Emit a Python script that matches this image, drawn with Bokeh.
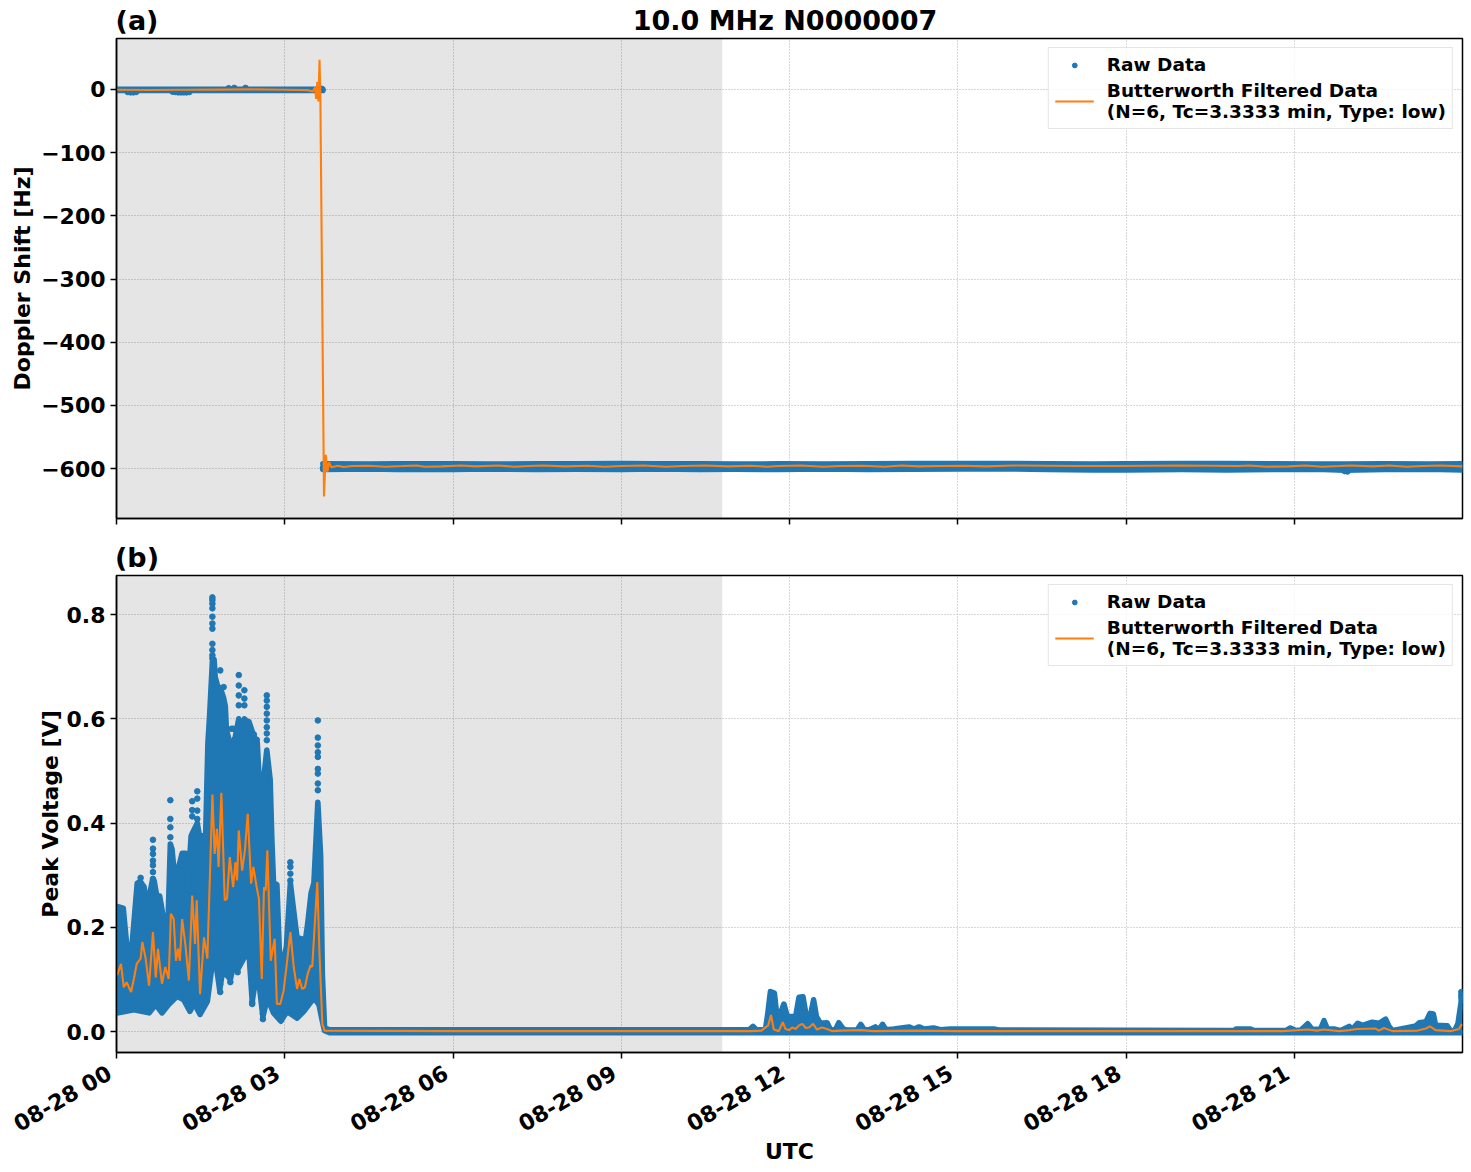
import math
from bokeh.plotting import figure
from bokeh.layouts import column
from bokeh.models import FixedTicker, LinearAxis, Legend, LegendItem
from bokeh.embed import file_html
from bokeh.resources import INLINE

BLUE, ORANGE = "#1f77b4", "#ff7f0e"
FONT = "DejaVu Sans"

x_tick_hours = [0, 3, 6, 9, 12, 15, 18, 21]
x_tick_labels = ["08-28 00", "08-28 03", "08-28 06", "08-28 09", "08-28 12", "08-28 15", "08-28 18", "08-28 21"]
night_span = [0.0, 10.8]
a_ticks = [0, -100, -200, -300, -400, -500, -600]
a_tick_labels = ["0", "\u2212100", "\u2212200", "\u2212300", "\u2212400", "\u2212500", "\u2212600"]
b_ticks = [0.0, 0.2, 0.4, 0.6, 0.8]
b_tick_labels = ["0.0", "0.2", "0.4", "0.6", "0.8"]

# ---- panel (a): Doppler shift ----
a_before_h = [0.0, 0.8, 1.6, 2.4, 3.0, 3.68]
a_before_hi = [0.3, 0.3, 0.3, 0.3, 0.3, 0.3]
a_before_lo = [-1.5, -1.5, -1.5, -1.5, -1.5, -1.5]
a_after_h = [3.68, 4.5, 5.0, 6.0, 6.6, 7.5, 8.2, 9.0, 9.6, 10.4, 11.0, 11.8, 12.6, 13.4,
             14.2, 15.0, 16.0, 16.6, 17.4, 18.0, 19.0, 19.8, 20.6, 21.4, 21.9, 22.6, 23.4, 24.0]
a_after_hi = [-592.5, -593.0, -592.5, -592.5, -593.0, -592.5, -592.5, -592.0, -592.5, -592.5, -593.0,
              -592.5, -593.0, -592.5, -592.0, -592.0, -592.0, -592.5, -593.0, -592.5, -592.0, -592.0,
              -592.5, -593.0, -593.0, -592.5, -593.0, -592.5]
a_after_lo = [-601.5, -600.5, -601.5, -601.5, -600.5, -601.5, -601.0, -601.5, -600.5, -601.5, -601.0,
              -601.5, -600.5, -601.5, -601.0, -600.5, -600.5, -601.5, -602.0, -602.0, -601.5, -602.0,
              -601.5, -601.0, -602.5, -601.5, -601.0, -602.0]
a_filt_h = [0.0, 0.6, 1.2, 1.8, 2.4, 3.0, 3.4, 3.5, 3.54, 3.56, 3.58, 3.6, 3.62, 3.635, 3.70, 3.73, 3.76, 3.79, 3.83,
            3.95, 4.05, 4.2, 4.5, 4.8, 5.1, 5.35, 5.5, 5.8, 6.15, 6.4, 6.8, 7.1, 7.35, 7.6, 8.0, 8.4, 8.7, 9.0,
            9.4, 9.8, 10.1, 10.5, 10.9, 11.3, 11.6, 11.8, 12.2, 12.6, 12.9, 13.3, 13.7, 14.0, 14.3, 14.7, 15.1,
            15.5, 16.0, 16.6, 17.2, 17.8, 18.4, 19.0, 19.5, 20.0, 20.2, 20.5, 20.9, 21.2, 21.5, 21.8, 22.0,
            22.4, 22.7, 23.0, 23.3, 23.6, 24.0]
a_filt_v = [-0.5, -0.8, -0.5, -0.2, 0.2, -0.5, -1.0, -3.0, 3.0, -15.0, 12.0, -19.0, 47.0, -10.0, -644.0, -578.0, -605.0,
            -590.0, -598.0, -595.5, -597.5, -596.0, -595.5, -597.0, -596.0, -595.0, -597.0, -596.5, -595.0, -596.5,
            -595.0, -597.0, -596.0, -595.0, -596.5, -595.5, -597.0, -596.0, -595.0, -597.0, -596.0, -595.0, -596.5,
            -595.5, -597.0, -596.0, -595.0, -597.0, -596.0, -595.5, -597.0, -595.0, -596.5, -596.0, -595.5, -596.5,
            -595.0, -595.5, -596.0, -596.0, -595.5, -595.0, -595.5, -596.0, -595.0, -597.0, -596.5, -595.0, -597.0,
            -596.0, -595.0, -596.5, -595.0, -597.0, -596.0, -595.0, -596.5]
a_dot_h = [0.2, 0.25, 0.3, 0.35, 1.0, 1.05, 1.1, 1.15, 1.2, 1.25, 1.3, 2.0, 2.1, 2.3, 3.66, 3.68, 3.7, 21.9, 21.95]
a_dot_v = [-4.0, -4.5, -4.5, -4.0, -3.5, -4.0, -4.5, -4.5, -4.5, -4.5, -4.0, 2.0, 2.5, 2.5, 1.0, -599.0, -601.0, -604.0, -604.5]

# ---- panel (b): peak voltage ----
b_hi_h = [0.01, 0.12, 0.19, 0.28, 0.37, 0.42, 0.49, 0.55, 0.64, 0.67, 0.72, 0.77, 0.84, 0.92, 0.96, 0.99, 1.03, 1.08,
          1.17, 1.23, 1.27, 1.33, 1.35, 1.44, 1.48, 1.59, 1.63, 1.66, 1.71, 1.74, 1.76, 1.81, 1.85, 1.91, 1.94, 1.96,
          2.03, 2.09, 2.18, 2.22, 2.28, 2.33, 2.36, 2.45, 2.51, 2.55, 2.61, 2.68, 2.74, 2.77, 2.80, 2.86, 2.91, 2.97,
          3.03, 3.10, 3.15, 3.22, 3.26, 3.37, 3.41, 3.47, 3.52, 3.59, 3.64, 3.67, 3.71, 3.8, 11.28, 11.35, 11.41, 11.57,
          11.61, 11.66, 11.73, 11.77, 11.79, 11.84, 11.90, 11.96, 12.05, 12.11, 12.17, 12.24, 12.30, 12.37, 12.43,
          12.48, 12.55, 12.67, 12.73, 12.82, 12.88, 12.96, 13.03, 13.21, 13.27, 13.33, 13.42, 13.53, 13.59, 13.66,
          13.72, 13.86, 14.13, 14.22, 14.31, 14.40, 14.57, 14.69, 14.87, 15.64, 15.73, 19.93, 19.96, 20.22, 20.28,
          20.85, 20.93, 21.03, 21.12, 21.24, 21.32, 21.47, 21.53, 21.59, 21.71, 21.83, 21.98, 22.04, 22.13, 22.22,
          22.39, 22.51, 22.63, 22.69, 22.75, 22.90, 23.17, 23.23, 23.35, 23.42, 23.48, 23.52, 23.73, 23.79, 23.86,
          23.92, 23.96, 24.0]
b_hi_v = [0.240, 0.237, 0.157, 0.170, 0.285, 0.288, 0.278, 0.240, 0.290, 0.290, 0.259, 0.260, 0.215, 0.215, 0.360,
          0.350, 0.304, 0.304, 0.342, 0.342, 0.272, 0.375, 0.380, 0.400, 0.375, 0.378, 0.554, 0.605, 0.710, 0.714,
          0.680, 0.660, 0.660, 0.640, 0.624, 0.579, 0.550, 0.550, 0.600, 0.579, 0.600, 0.595, 0.595, 0.566, 0.554,
          0.470, 0.470, 0.540, 0.483, 0.368, 0.285, 0.282, 0.135, 0.135, 0.163, 0.285, 0.240, 0.179, 0.179, 0.176,
          0.208, 0.266, 0.285, 0.440, 0.336, 0.112, 0.007, 0.0035, 0.0035, 0.010, 0.0035, 0.0035, 0.032, 0.077, 0.074,
          0.034, 0.0035, 0.035, 0.053, 0.029, 0.029, 0.029, 0.066, 0.067, 0.029, 0.029, 0.061, 0.029, 0.016, 0.017,
          0.0035, 0.0035, 0.017, 0.005, 0.003, 0.0035, 0.014, 0.004, 0.0035, 0.009, 0.0035, 0.014, 0.0035, 0.005,
          0.009, 0.005, 0.009, 0.005, 0.007, 0.0035, 0.005, 0.005, 0.003, 0.002, 0.005, 0.005, 0.002, 0.002, 0.007,
          0.002, 0.003, 0.015, 0.004, 0.005, 0.021, 0.005, 0.005, 0.002, 0.010, 0.005, 0.016, 0.012, 0.018, 0.016,
          0.024, 0.010, 0.002, 0.005, 0.011, 0.017, 0.019, 0.035, 0.034, 0.012, 0.011, 0.001, 0.002, 0.016, 0.045, 0.074]
b_lo_h = [0.01, 0.31, 0.58, 0.70, 0.81, 0.93, 1.08, 1.20, 1.31, 1.38, 1.49, 1.62, 1.69, 1.76, 1.84, 1.90, 1.94, 2.03,
          2.09, 2.16, 2.27, 2.36, 2.42, 2.51, 2.61, 2.69, 2.80, 2.93, 3.04, 3.22, 3.34, 3.52, 3.61, 3.67, 3.71, 3.8, 24.0]
b_lo_v = [0.036, 0.042, 0.036, 0.052, 0.036, 0.052, 0.068, 0.061, 0.039, 0.055, 0.033, 0.058, 0.116, 0.141, 0.080,
          0.122, 0.113, 0.100, 0.129, 0.119, 0.141, 0.154, 0.058, 0.122, 0.029, 0.065, 0.036, 0.020, 0.039, 0.026,
          0.039, 0.065, 0.052, 0.020, 0.002, -0.002, -0.002]
b_dot_h = [1.71] * 11 + [3.59] * 9 + [2.18] * 4 + [2.28] * 3 + [2.68] * 8 + [0.96] * 4 + [1.35] * 3 + [1.44] * 4 + \
          [0.65] * 7 + [0.43, 0.43, 1.85, 1.91, 2.08, 3.10, 3.10, 3.10, 3.10, 23.98, 23.99] + \
          [1.85, 1.85, 1.85, 1.94, 2.03, 2.16, 2.42, 2.42, 2.42, 2.61, 2.61, 2.61, 2.05, 2.10, 2.25, 2.33, 2.45, 2.50, 23.98, 23.98]
b_dot_v = [0.833, 0.828, 0.821, 0.812, 0.796, 0.783, 0.773, 0.744, 0.732, 0.722, 0.716,
           0.597, 0.564, 0.549, 0.536, 0.527, 0.504, 0.495, 0.476, 0.463,
           0.684, 0.664, 0.645, 0.626, 0.655, 0.639, 0.626,
           0.645, 0.635, 0.623, 0.610, 0.597, 0.584, 0.572, 0.559,
           0.444, 0.408, 0.392, 0.373, 0.442, 0.425, 0.413, 0.461, 0.447, 0.424, 0.408,
           0.368, 0.351, 0.341, 0.328, 0.319, 0.306, 0.293,
           0.295, 0.285, 0.693, 0.661, 0.581, 0.325, 0.316, 0.303, 0.290, 0.076, 0.060,
           0.104, 0.091, 0.076, 0.110, 0.095, 0.114, 0.082, 0.056, 0.053, 0.047, 0.034, 0.024,
           0.581, 0.560, 0.580, 0.570, 0.570, 0.560, 0.070, 0.065]
b_filt_h = [0.01, 0.08, 0.13, 0.18, 0.26, 0.31, 0.36, 0.43, 0.46, 0.52, 0.58, 0.65, 0.70, 0.74, 0.81, 0.87, 0.93, 0.97,
            1.02, 1.06, 1.10, 1.13, 1.17, 1.23, 1.29, 1.35, 1.40, 1.43, 1.49, 1.56, 1.62, 1.71, 1.75, 1.79, 1.82, 1.87,
            1.93, 1.97, 2.02, 2.08, 2.12, 2.15, 2.18, 2.24, 2.29, 2.34, 2.40, 2.44, 2.50, 2.54, 2.59, 2.63, 2.66, 2.69,
            2.75, 2.82, 2.86, 2.92, 2.98, 3.03, 3.10, 3.16, 3.22, 3.26, 3.31, 3.36, 3.41, 3.46, 3.49, 3.58, 3.62, 3.67,
            3.71, 6.0, 9.0, 11.3, 11.5, 11.62, 11.67, 11.72, 11.81, 11.88, 11.93, 11.99, 12.05, 12.11, 12.17, 12.23,
            12.29, 12.35, 12.42, 12.49, 12.58, 12.67, 12.76, 12.91, 13.27, 13.5, 14.2, 15.0, 18.0, 20.8, 21.24, 21.4,
            21.53, 21.8, 21.98, 22.13, 22.45, 22.51, 22.60, 22.75, 23.2, 23.35, 23.42, 23.52, 23.79, 23.94, 23.98, 24.0]
b_filt_v = [0.108, 0.130, 0.085, 0.095, 0.076, 0.101, 0.130, 0.140, 0.172, 0.140, 0.088, 0.191, 0.104, 0.159, 0.092,
            0.124, 0.101, 0.226, 0.216, 0.136, 0.159, 0.136, 0.216, 0.165, 0.098, 0.261, 0.168, 0.252, 0.072, 0.181,
            0.140, 0.455, 0.341, 0.389, 0.316, 0.458, 0.252, 0.255, 0.335, 0.277, 0.325, 0.290, 0.386, 0.309, 0.348,
            0.418, 0.284, 0.316, 0.277, 0.255, 0.101, 0.277, 0.271, 0.348, 0.136, 0.178, 0.053, 0.053, 0.079, 0.124,
            0.191, 0.124, 0.082, 0.101, 0.082, 0.085, 0.111, 0.127, 0.124, 0.287, 0.149, 0.015, 0.002, 0.001, 0.001,
            0.001, 0.002, 0.012, 0.032, 0.004, 0.001, 0.018, 0.005, 0.003, 0.008, 0.005, 0.012, 0.015, 0.007, 0.008,
            0.015, 0.004, 0.008, 0.005, 0.001, 0.002, 0.003, 0.001, 0.002, 0.001, 0.001, 0.001, 0.004, 0.002, 0.004,
            0.001, 0.003, 0.005, 0.006, 0.002, 0.007, 0.001, 0.002, 0.006, 0.010, 0.003, 0.001, 0.005, 0.013, 0.013]

LEGEND_RAW = "Raw Data"
LEGEND_FILT = "Butterworth Filtered Data\n(N=6, Tc=3.3333 min, Type: low)"


def base(y_range, yticks, ylabels, ylabel, label_standoff, show_x):
    p = figure(frame_width=1346, frame_height=480 if not show_x else 477, x_range=(0, 24), y_range=y_range,
               output_backend="svg", toolbar_location=None, min_border_left=116, min_border_right=9,
               min_border_top=38 if not show_x else 37, min_border_bottom=112 if show_x else 20)
    p.outline_line_color = "black"
    p.outline_line_width = 1.5
    p.background_fill_color = "white"
    for ax in (p.xaxis[0], p.yaxis[0]):
        ax.axis_line_width = 1.5
        ax.major_tick_line_width = 1.5
        ax.major_tick_line_color = "black"
        ax.major_tick_out = 6
        ax.major_tick_in = 0
        ax.minor_tick_line_color = None
        ax.major_label_text_font = FONT
        ax.major_label_text_font_style = "bold"
        ax.major_label_text_font_size = "22px"
        ax.major_label_text_color = "black"
        ax.axis_label_text_font = FONT
        ax.axis_label_text_font_style = "bold"
        ax.axis_label_text_font_size = "22px"
        ax.axis_label_text_color = "black"
    p.xaxis[0].ticker = FixedTicker(ticks=x_tick_hours)
    p.yaxis[0].ticker = FixedTicker(ticks=yticks)
    p.yaxis[0].major_label_overrides = dict(zip(yticks, ylabels))
    p.yaxis[0].axis_label = ylabel
    p.yaxis[0].axis_label_standoff = label_standoff
    if show_x:
        p.xaxis[0].major_label_overrides = {h: t + "\u00a0" for h, t in zip(x_tick_hours, x_tick_labels)}
        p.xaxis[0].major_label_orientation = math.radians(30)
        p.xaxis[0].major_label_standoff = 9
        p.xaxis[0].axis_label = "UTC"
        p.xaxis[0].axis_label_standoff = -11
    else:
        p.xaxis[0].major_label_overrides = {h: "" for h in x_tick_hours}
    for g in (p.xgrid[0], p.ygrid[0]):
        g.grid_line_color = "#b0b0b0"
        g.grid_line_dash = "1 2"
        g.grid_line_width = 1
    p.quad(left=night_span[0], right=night_span[1], bottom=y_range[0], top=y_range[1],
           fill_color="black", fill_alpha=0.1, line_color=None)
    return p


def band(p, hi_h, hi_v, lo_h, lo_v):
    p.patch(list(hi_h) + list(lo_h)[::-1], list(hi_v) + list(lo_v)[::-1], fill_color=BLUE, line_color=None)
    p.line(hi_h, hi_v, line_color=BLUE, line_width=5.6, line_join="round", line_cap="round")
    p.line(lo_h, lo_v, line_color=BLUE, line_width=5.6, line_join="round", line_cap="round")


def add_legend(p, dots, line):
    leg = Legend(items=[LegendItem(label=LEGEND_RAW, renderers=[dots]), LegendItem(label=LEGEND_FILT, renderers=[line])],
                 location="top_right", margin=9, padding=6, spacing=5, glyph_width=39, glyph_height=12, label_standoff=13,
                 label_text_font=FONT, label_text_font_style="bold", label_text_font_size="18.5px",
                 label_text_color="black", label_text_line_height=1.05,
                 border_line_color="#cccccc", border_line_width=1, background_fill_alpha=0.8)
    p.add_layout(leg)


def heading(p, spots, words):
    ax = LinearAxis(ticker=FixedTicker(ticks=spots), major_label_overrides=dict(zip(spots, words)),
                    axis_line_color=None, major_tick_line_color=None, minor_tick_line_color=None,
                    major_tick_out=0, major_tick_in=0, major_label_standoff=3, major_label_text_font=FONT,
                    major_label_text_font_style="bold", major_label_text_font_size="27px",
                    major_label_text_color="black")
    p.add_layout(ax, "above")


a_range = (-679.0, 80.7)
pa = base(a_range, a_ticks, a_tick_labels, "Doppler Shift [Hz]", 3, False)
band(pa, a_before_h, a_before_hi, a_before_h, a_before_lo)
band(pa, a_after_h, a_after_hi, a_after_h, a_after_lo)
da = pa.scatter(a_dot_h, a_dot_v, size=5.6, color=BLUE)
la = pa.line(a_filt_h, a_filt_v, line_color=ORANGE, line_width=2.1)
add_legend(pa, da, la)
heading(pa, [0.366, 11.92], ["(a)", "10.0 MHz N0000007"])

b_range = (-0.04, 0.875)
pb = base(b_range, b_ticks, b_tick_labels, "Peak Voltage [V]", 1, True)
band(pb, b_hi_h, b_hi_v, b_lo_h, b_lo_v)
db = pb.scatter(b_dot_h, b_dot_v, size=5.6, color=BLUE)
lb = pb.line(b_filt_h, b_filt_v, line_color=ORANGE, line_width=2.1)
add_legend(pb, db, lb)
heading(pb, [0.366], ["(b)"])

open("out.html", "w").write(file_html(column(pa, pb, spacing=0), INLINE))
